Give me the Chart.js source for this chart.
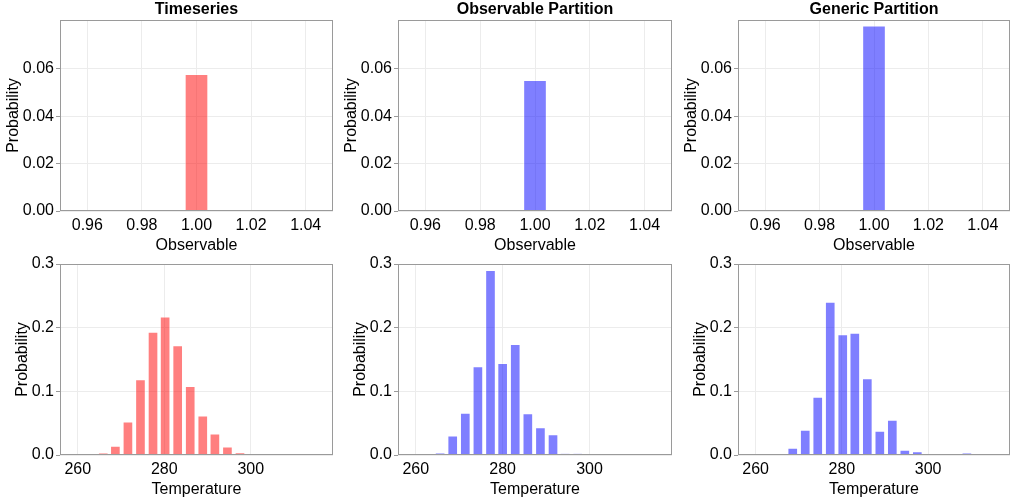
<!DOCTYPE html>
<html>
<head>
<meta charset="utf-8">
<script src="https://cdn.jsdelivr.net/npm/chart.js@4.4.0/dist/chart.umd.min.js"></script>
<style>
  html, body { margin: 0; padding: 0; background: #fff; }
  #wrap { position: relative; width: 1013px; height: 502px; overflow: hidden; }
  canvas { position: absolute; }
</style>
</head>
<body>
<div id="wrap">
  <canvas id="obsTs" width="333" height="258" style="left:2px;top:0px"></canvas>
  <canvas id="obsPart" width="334" height="258" style="left:340px;top:0px"></canvas>
  <canvas id="obsGen" width="332" height="258" style="left:680px;top:0px"></canvas>
  <canvas id="tempTs" width="333" height="258" style="left:2px;top:244px"></canvas>
  <canvas id="tempPart" width="334" height="258" style="left:340px;top:244px"></canvas>
  <canvas id="tempGen" width="332" height="258" style="left:680px;top:244px"></canvas>
</div>
<script>
// top row: the observable only ever takes the value 1.0
const observableBins = [1.0];
const obsTimeseries = [0.0577];
const obsPartition = [0.0551];
const obsGeneric = [0.0781];
const observableTicks = [0.96, 0.98, 1.00, 1.02, 1.04];
const obsProbTicks = [0, 0.02, 0.04, 0.06];

// bottom row: temperature histograms (bin centre -> probability)
const tempBinsTs = [263.0, 265.9, 268.7, 271.6, 274.5, 277.4, 280.2, 283.1, 286.0, 288.9, 291.7, 294.6, 297.5, 300.4, 303.3];
const tempTs = [0.0005, 0.0026, 0.014, 0.052, 0.1185, 0.193, 0.217, 0.172, 0.108, 0.0616, 0.0334, 0.013, 0.0037, 0.0008, 0.0003];

const tempBinsPart = [265.6, 268.5, 271.4, 274.3, 277.2, 280.0, 282.9, 285.8, 288.7, 291.6, 294.4, 297.3];
const tempPart = [0.003, 0.030, 0.066, 0.139, 0.290, 0.144, 0.174, 0.065, 0.043, 0.032, 0.002, 0.002];

const tempBinsGen = [268.6, 271.5, 274.4, 277.3, 280.2, 283.0, 285.9, 288.8, 291.7, 294.6, 297.5, 300.3, 303.2, 306.1, 309.0];
const tempGen = [0.011, 0.039, 0.091, 0.240, 0.189, 0.1916, 0.120, 0.0376, 0.055, 0.0078, 0.0052, 0, 0, 0, 0.0026];

const tempTicks = [260, 280, 300];
const tempProbTicks = [0, 0.1, 0.2, 0.3];

const red = 'rgba(255, 0, 0, 0.5)';
const blue = 'rgba(0, 0, 255, 0.5)';

Chart.defaults.font.family = '"Liberation Sans", Arial, Helvetica, sans-serif';
Chart.defaults.font.size = 16;
Chart.defaults.color = '#000';

// box round the plot area, like the original spines
const frame = {
  id: 'frame',
  afterDraw(chart) {
    const { ctx, chartArea: a } = chart;
    ctx.save();
    ctx.strokeStyle = '#9a9a9a';
    ctx.lineWidth = 1;
    ctx.strokeRect(Math.round(a.left) + 0.5, Math.round(a.top) + 0.5,
      Math.round(a.right - a.left) - 1, Math.round(a.bottom - a.top) - 1);
    ctx.restore();
  }
};

function panel(id, o) {
  const topRow = !!o.title;
  new Chart(document.getElementById(id), {
    type: 'bar',
    data: {
      labels: o.bins,
      datasets: [{
        data: o.values,
        backgroundColor: o.color,
        borderColor: 'rgba(255,255,255,0.4)',
        borderWidth: { left: 1, right: 1, top: 1, bottom: 0 },
        barThickness: o.barThickness
      }]
    },
    options: {
      responsive: false,
      animation: false,
      layout: { padding: { top: topRow ? 0 : 20, right: 2, left: 0, bottom: 0 } },
      plugins: {
        legend: { display: false },
        tooltip: { enabled: false },
        title: {
          display: topRow,
          text: o.title,
          fullSize: false,
          font: { weight: 'bold', size: 16 },
          color: '#000',
          padding: { top: 0, bottom: 0.8 }
        }
      },
      scales: {
        x: {
          type: 'linear',
          min: o.xMin,
          max: o.xMax,
          offset: false,
          grid: { offset: false, color: '#ececec', drawTicks: false },
          border: { display: false },
          ticks: { padding: 5, callback: v => v.toFixed(o.xDigits) },
          afterBuildTicks: s => { s.ticks = o.xTicks.map(v => ({ value: v })); },
          afterFit: s => { s.height = 47; },
          title: { display: true, text: o.xLabel, padding: { top: 0, bottom: topRow ? 2.4 : 3 } }
        },
        y: {
          min: 0,
          max: o.yMax,
          grid: { color: '#ececec', tickColor: '#9a9a9a', tickLength: 4 },
          border: { display: false },
          ticks: { padding: 2, callback: v => v.toFixed(o.yDigits) },
          afterBuildTicks: s => { s.ticks = o.yTicks.map(v => ({ value: v })); },
          afterFit: s => { s.width = 58; },
          title: { display: true, text: 'Probability', padding: { top: topRow ? 2.4 : 10.9, bottom: 0 } }
        }
      }
    },
    plugins: [frame]
  });
}

const topCommon = { bins: observableBins, xMin: 0.95, xMax: 1.05, xTicks: observableTicks, xDigits: 2,
  yMax: 0.0806, yTicks: obsProbTicks, yDigits: 2, xLabel: 'Observable', barThickness: 23 };
const bottomCommon = { xMin: 255.9, xMax: 319.0, xTicks: tempTicks, xDigits: 0,
  yMax: 0.3, yTicks: tempProbTicks, yDigits: 1, xLabel: 'Temperature', barThickness: 10 };

panel('obsTs', { ...topCommon, title: 'Timeseries', values: obsTimeseries, color: red });
panel('obsPart', { ...topCommon, title: 'Observable Partition', values: obsPartition, color: blue });
panel('obsGen', { ...topCommon, title: 'Generic Partition', values: obsGeneric, color: blue });

panel('tempTs', { ...bottomCommon, bins: tempBinsTs, values: tempTs, color: red });
panel('tempPart', { ...bottomCommon, bins: tempBinsPart, values: tempPart, color: blue });
panel('tempGen', { ...bottomCommon, bins: tempBinsGen, values: tempGen, color: blue });
</script>
</body>
</html>
